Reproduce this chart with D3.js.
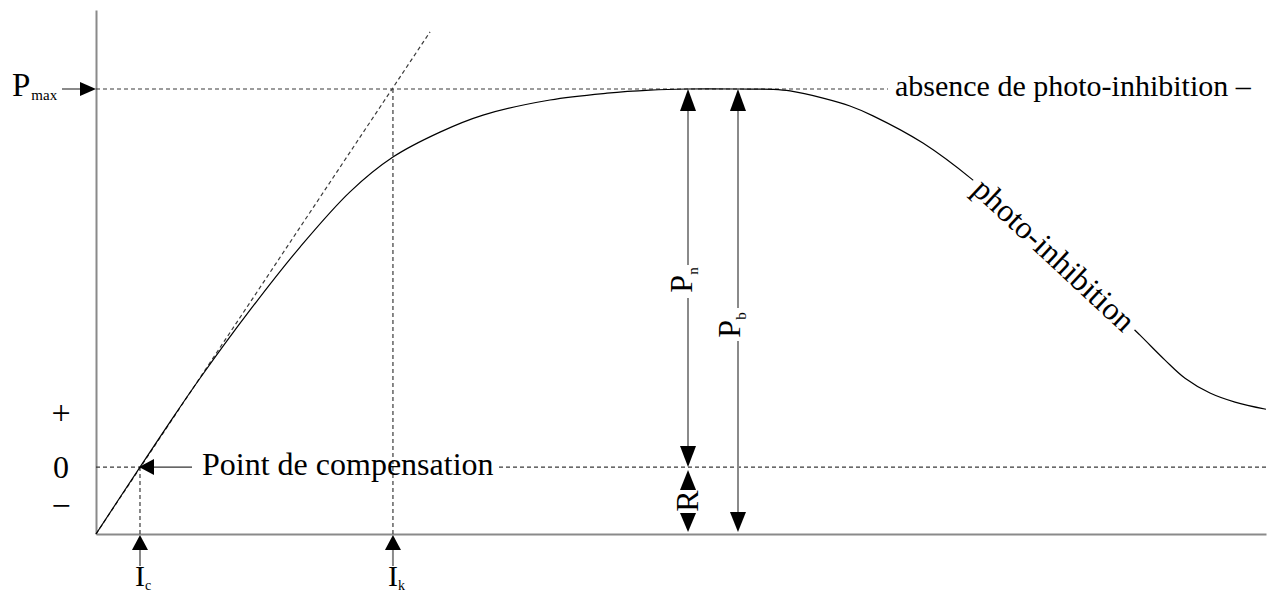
<!DOCTYPE html>
<html><head><meta charset="utf-8">
<script src="https://cdn.jsdelivr.net/npm/d3@7"></script>
<style>html,body{margin:0;padding:0;background:#fff;}svg{display:block;}text{font-family:"Liberation Serif","Times New Roman",serif;fill:#000;}</style>
</head><body>
<svg id="c" width="1272" height="593"></svg>
<script>
// Light intensity (I) and net photosynthesis (P)
const curveI = [0, 37.6, 63.2, 88.9, 131.6, 174.4, 217.1, 253.8, 294.0, 330.8, 388.0, 436.8, 473.5, 505.1, 550, 578.6, 593.2, 621.4, 644.4, 664.1, 706.8, 749.6, 789.7, 823.9, 858.1, 892.3, 913.7, 930.8, 952.1, 973.5, 1000];
const curveP = [-17.7, 0, 11.9, 23.5, 41.5, 58.2, 72.8, 82.0, 88.6, 93.1, 97.1, 98.9, 99.7, 100, 100, 99.9, 99.5, 97.6, 95.5, 92.9, 85.7, 75.9, 64.8, 55.0, 45.2, 34.9, 28.3, 23.5, 19.6, 17.2, 15.3];
const slopeI = [0, 285.5];
const slopeP = [-17.7, 115.1];
const Pmax = 100, R = 17.7, Ic = 37.6, Ik = 253.8, IPn = 506, IPb = 548.7;
const yTickLabels = ["+", "0", "\u2212"];
const yTickValues = [13.8, 0, -10.8];

const svg = d3.select("#c");
const x = d3.scaleLinear().domain([0, 1000]).range([96, 1266]);
const y = d3.scaleLinear().domain([-R, 120.9]).range([534, 10]);

const dash = "4,3", dashCol = "#3a3a3a", grey = "#8a8a8a";

function head(tx, ty, dir, len, hw) {
  let p;
  if (dir === "up") p = [[tx, ty], [tx - hw, ty + len], [tx + hw, ty + len]];
  else if (dir === "down") p = [[tx, ty], [tx - hw, ty - len], [tx + hw, ty - len]];
  else if (dir === "right") p = [[tx, ty], [tx - len, ty - hw], [tx - len, ty + hw]];
  else p = [[tx, ty], [tx + len, ty - hw], [tx + len, ty + hw]];
  svg.append("path").attr("d", "M" + p.join("L") + "Z").attr("fill", "#000");
}
function seg(x1, y1, x2, y2, col, w, da) {
  svg.append("line").attr("x1", x1).attr("y1", y1).attr("x2", x2).attr("y2", y2)
    .attr("stroke", col).attr("stroke-width", w).attr("stroke-dasharray", da || null);
}

// axes
svg.append("g").attr("transform", `translate(0,${y(-R)})`)
  .call(d3.axisBottom(x).tickValues([]).tickSizeOuter(0))
  .select(".domain").attr("stroke", grey).attr("stroke-width", 2);
svg.append("g").attr("transform", `translate(${x(0)},0)`)
  .call(d3.axisLeft(y).tickValues([]).tickSizeOuter(0))
  .select(".domain").attr("stroke", grey).attr("stroke-width", 2);

// y labels
yTickLabels.forEach((t, i) => {
  svg.append("text").attr("x", 61).attr("y", y(yTickValues[i]) + (i === 1 ? 11 : 9))
    .attr("text-anchor", "middle").attr("font-size", i === 1 ? 32 : 34).text(t);
});

// dashed reference lines
seg(x(0), y(Pmax), 888, y(Pmax), dashCol, 1.2, dash);
seg(x(0), y(0), x(Ic), y(0), dashCol, 1.2, dash);
seg(499, y(0), x(1000), y(0), dashCol, 1.2, dash);
seg(x(Ic), y(0), x(Ic), y(-R), dashCol, 1.2, dash);
seg(x(Ik), y(Pmax), x(Ik), y(-R), dashCol, 1.2, dash);
svg.append("path").datum(slopeI.map((v, i) => [v, slopeP[i]]))
  .attr("d", d3.line().x(d => x(d[0])).y(d => y(d[1])))
  .attr("fill", "none").attr("stroke", dashCol).attr("stroke-width", 1.2).attr("stroke-dasharray", dash);

// main curve
svg.append("path").datum(curveI.map((v, i) => [v, curveP[i]]))
  .attr("d", d3.line().x(d => x(d[0])).y(d => y(d[1])).curve(d3.curveCatmullRom.alpha(0.5)))
  .attr("fill", "none").attr("stroke", "#000").attr("stroke-width", 1.2);

// photo-inhibition label on curve
const lab = svg.append("g").attr("transform", "translate(1053,256) rotate(43)");
lab.append("rect").attr("x", -110).attr("y", -9).attr("width", 220).attr("height", 18).attr("fill", "#fff");
lab.append("text").attr("text-anchor", "middle").attr("y", 9).attr("font-size", 32).text("photo-inhibition");

// absence de photo-inhibition
svg.append("text").attr("x", 895).attr("y", 96).attr("font-size", 30).text("absence de photo-inhibition \u2013");

// Pmax label and arrow
const pm = svg.append("text").attr("x", 12).attr("y", 96).attr("font-size", 33);
pm.append("tspan").text("P");
pm.append("tspan").attr("font-size", 15).attr("dx", 1).attr("dy", 4).text("max");
seg(62, y(Pmax), 82, y(Pmax), grey, 2);
head(96, y(Pmax), "right", 16, 7);

// Point de compensation
seg(153, y(0), 192, y(0), "#333", 1.3);
head(x(Ic) - 1, y(0), "left", 15, 8);
svg.append("text").attr("x", 202).attr("y", y(0) + 8).attr("font-size", 32).text("Point de compensation");

// Ic, Ik arrows
[[Ic, "c"], [Ik, "k"]].forEach(([v, s]) => {
  const xx = x(v);
  seg(xx, 549, xx, 566, grey, 2);
  head(xx, 535, "up", 15, 8);
  const t = svg.append("text").attr("x", xx - 5).attr("y", 586).attr("font-size", 30);
  t.append("tspan").text("I");
  t.append("tspan").attr("font-size", 14).attr("dy", 4).text(s);
});

// Pn arrow
const xn = x(IPn), xb = x(IPb);
seg(xn, y(Pmax) + 20, xn, 265, grey, 2);
seg(xn, 298, xn, y(0) - 19, grey, 2);
head(xn, y(Pmax), "up", 22, 8);
head(xn, y(0), "down", 21, 8);
const tn = svg.append("text").attr("transform", `translate(${xn + 4},280) rotate(-90)`).attr("text-anchor", "middle").attr("font-size", 32);
tn.append("tspan").text("P");
tn.append("tspan").attr("font-size", 15).attr("dy", 6).text("n");

// Pb arrow
seg(xb, y(Pmax) + 20, xb, 308, grey, 2);
seg(xb, 341, xb, y(-R) - 19, grey, 2);
head(xb, y(Pmax), "up", 22, 8);
head(xb, y(-R) - 2, "down", 20, 8);
const tb = svg.append("text").attr("transform", `translate(${xb + 2},325) rotate(-90)`).attr("text-anchor", "middle").attr("font-size", 32);
tb.append("tspan").text("P");
tb.append("tspan").attr("font-size", 15).attr("dy", 6).text("b");

// R arrows
head(xn, y(0) + 3, "up", 20, 8);
head(xn, y(-R) - 2, "down", 19, 8);
svg.append("text").attr("transform", `translate(${xn + 10},501) rotate(-90)`).attr("text-anchor", "middle").attr("font-size", 32).text("R");
</script>
</body></html>
